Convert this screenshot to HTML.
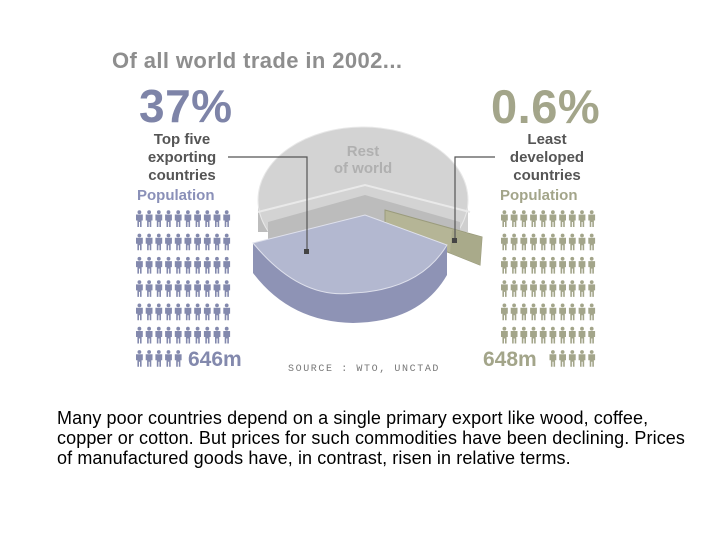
<!DOCTYPE html>
<html><head><meta charset="utf-8"><style>
body{margin:0;width:728px;height:546px;background:#fff;position:relative;overflow:hidden;font-family:"Liberation Sans",sans-serif}
.t{position:absolute;font-weight:bold;white-space:nowrap}
.c{text-align:center}
</style></head><body>
<svg width="728" height="546" style="position:absolute;left:0;top:0">
 <g>
  <path d="M258,205 A105,78 0 0 1 468,205 L468,232 L460,232 L460,222 L365,195 L268,222 L268,232 L258,232 Z" fill="#cfcfcf"/>
  <path d="M258,205 L258,232 L268,232 L268,222 Z" fill="#bdbdbd"/>
  <ellipse cx="363" cy="200" rx="105" ry="73" fill="#d3d3d3" stroke="#e8e8e8" stroke-width="1"/>
  <path d="M268,222 L365,195 L460,222 L460,250 L365,222 L268,250 Z" fill="#bcbcbc"/>
  <path d="M258,212 L365,185 L470,212" fill="none" stroke="#e9e9e9" stroke-width="2"/>
  <path d="M385,210 L482,237 L480,265 L450,253 L385,228 Z" fill="#b5b596" stroke="#9a9b7c" stroke-width="1"/>
  <path d="M450,253 L480,265 L482,237 L452,230 Z" fill="#a9aa8a"/>
  <path d="M253,243 Q300,300 353,293 Q420,290 447,245 L447,275 Q420,322 353,323 Q290,322 253,273 Z" fill="#8e93b5"/>
  <path d="M253,243 L365,215 L447,245 Q420,290 353,293 Q300,300 253,243 Z" fill="#b3b8d0" stroke="#dfe1ec" stroke-width="1"/>
 </g>
 <g stroke="#555" stroke-width="1.2" fill="none">
  <path d="M228,157 H307 V252"/>
  <path d="M495,157 H455 V241"/>
 </g>
 <rect x="304" y="249" width="5" height="5" fill="#444"/>
 <rect x="452" y="238" width="5" height="5" fill="#444"/>
 <g id="leftPeople" fill="#8389ad"></g>
 <g id="rightPeople" fill="#a3a58a"></g>
</svg>
<div class="t" style="left:112px;top:48px;font-size:22px;letter-spacing:0.4px;color:#8e8e8e">Of all world trade in 2002...</div>
<div class="t" style="left:139px;top:79px;font-size:46px;letter-spacing:0.5px;color:#7e84a8">37%</div>
<div class="t c" style="left:122px;top:131px;width:120px;font-size:15px;line-height:18px;color:#555">Top five<br>exporting<br>countries</div>
<div class="t" style="left:137px;top:187px;font-size:15px;color:#8a90b8">Population</div>
<div class="t" style="left:188px;top:348px;font-size:21px;color:#8389ad">646m</div>
<div class="t" style="left:491px;top:79px;font-size:47px;letter-spacing:0.5px;color:#a3a58a">0.6%</div>
<div class="t c" style="left:487px;top:131px;width:120px;font-size:15px;line-height:18px;color:#555">Least<br>developed<br>countries</div>
<div class="t" style="left:500px;top:187px;font-size:15px;color:#a3a58a">Population</div>
<div class="t" style="left:483px;top:348px;font-size:21px;color:#a3a58a">648m</div>
<div class="t c" style="left:313px;top:143px;width:100px;font-size:15px;line-height:17px;color:#b0b0b0">Rest<br>of world</div>
<div class="t" style="left:288px;top:364px;font-size:10px;font-weight:normal;letter-spacing:1.6px;font-family:'Liberation Mono',monospace;color:#777">SOURCE : WTO, UNCTAD</div>
<div style="position:absolute;left:57px;top:408px;font-size:18px;line-height:20px;letter-spacing:0.1px;color:#000;width:680px;white-space:nowrap">Many poor countries depend on a single primary export like wood, coffee,<br>copper or cotton. But prices for such commodities have been declining. Prices<br>of manufactured goods have, in contrast, risen in relative terms.</div>
<script>
const leftRows=[10,10,10,10,10,10,5];
const rightRows=[10,10,10,10,10,10,5];
function person(g,x,y){
  const ns='http://www.w3.org/2000/svg';
  const p=document.createElementNS(ns,'path');
  p.setAttribute('d',`M${x+2.5},${y+2.2}a1.9,1.9 0 1 1 3.8,0a1.9,1.9 0 1 1 -3.8,0M${x+1},${y+4.5}h6.8v6h-1.2v6.5h-1.6v-5h-1v5h-1.6v-6.5h-1.4z`);
  
  
  g.appendChild(p);
}
const L=document.getElementById('leftPeople'),R=document.getElementById('rightPeople');
leftRows.forEach((n,r)=>{for(let i=0;i<n;i++)person(L,135+i*9.7,210+r*23.3);});
rightRows.forEach((n,r)=>{const off=r===6?5:0;for(let i=0;i<n;i++)person(R,500+(i+off)*9.7,210+r*23.3);});
</script>
</body></html>
